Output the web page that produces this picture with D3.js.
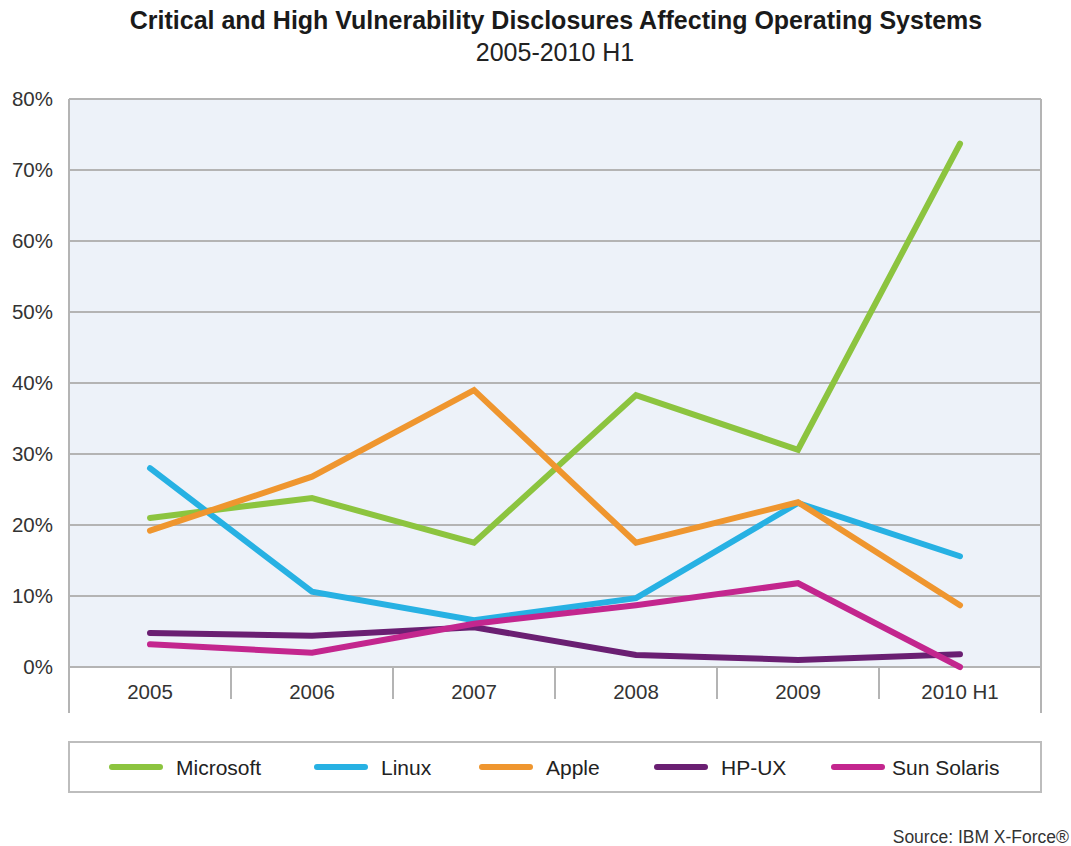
<!DOCTYPE html>
<html>
<head>
<meta charset="utf-8">
<script src="https://cdn.jsdelivr.net/npm/d3@7"></script>
<style>
  body { margin: 0; background: #fff; }
  text { font-family: "Liberation Sans", Arial, sans-serif; }
</style>
</head>
<body>
<svg id="chart"></svg>
<script>
const width = 1071;
const height = 846;

// data
const years = ["2005", "2006", "2007", "2008", "2009", "2010 H1"];
const seriesNames = ["Microsoft", "Linux", "Apple", "HP-UX", "Sun Solaris"];
const microsoft = [21.0, 23.8, 17.5, 38.3, 30.6, 73.7];
const linux = [28.0, 10.6, 6.6, 9.7, 23.1, 15.6];
const apple = [19.2, 26.8, 39.0, 17.5, 23.2, 8.7];
const hpux = [4.8, 4.4, 5.6, 1.7, 1.0, 1.8];
const solaris = [3.2, 2.0, 6.1, 8.7, 11.8, 0.0];
const yTicks = [0, 10, 20, 30, 40, 50, 60, 70, 80];

const colors = ["#8cc43f", "#27b1e3", "#ef962f", "#6a1f72", "#c3268e"];
const allSeries = [microsoft, linux, apple, hpux, solaris];

const margin = {left: 69, right: 30, top: 99, bottom: 179};
const plotW = width - margin.left - margin.right;
const plotH = height - margin.top - margin.bottom;

const svg = d3.select("#chart")
    .attr("width", width)
    .attr("height", height)
    .attr("viewBox", [0, 0, width, height]);

// titles
svg.append("text")
    .attr("x", 556).attr("y", 29)
    .attr("text-anchor", "middle")
    .attr("font-size", 25).attr("font-weight", "bold")
    .attr("fill", "#1a1a1a")
    .text("Critical and High Vulnerability Disclosures Affecting Operating Systems");

svg.append("text")
    .attr("x", 555).attr("y", 61)
    .attr("text-anchor", "middle")
    .attr("font-size", 25)
    .attr("fill", "#222")
    .text("2005-2010 H1");

const x = d3.scaleBand().domain(years).range([0, plotW]);
const y = d3.scaleLinear().domain([0, 80]).range([plotH, 0]);

const g = svg.append("g").attr("transform", `translate(${margin.left},${margin.top})`);

g.append("rect")
    .attr("width", plotW).attr("height", plotH)
    .attr("fill", "#edf2f9");

// gridlines
g.selectAll("line.grid")
    .data(yTicks)
    .enter().append("line")
    .attr("class", "grid")
    .attr("x1", 0).attr("x2", plotW)
    .attr("y1", d => y(d)).attr("y2", d => y(d))
    .attr("stroke", "#b4b4b4")
    .attr("stroke-width", 2);

// left and right borders run down past the category labels
g.append("line")
    .attr("x1", 0).attr("x2", 0)
    .attr("y1", 0).attr("y2", plotH + 46)
    .attr("stroke", "#b4b4b4").attr("stroke-width", 2);
g.append("line")
    .attr("x1", plotW).attr("x2", plotW)
    .attr("y1", 0).attr("y2", plotH + 46)
    .attr("stroke", "#b4b4b4").attr("stroke-width", 2);

// category separators
g.selectAll("line.sep")
    .data(years.slice(1))
    .enter().append("line")
    .attr("class", "sep")
    .attr("x1", d => x(d)).attr("x2", d => x(d))
    .attr("y1", plotH).attr("y2", plotH + 32)
    .attr("stroke", "#b4b4b4").attr("stroke-width", 2);

// y labels
g.selectAll("text.ylab")
    .data(yTicks)
    .enter().append("text")
    .attr("class", "ylab")
    .attr("x", -16)
    .attr("y", d => y(d))
    .attr("dy", "0.36em")
    .attr("text-anchor", "end")
    .attr("font-size", 20.5)
    .attr("fill", "#333")
    .text(d => d + "%");

// x labels
g.selectAll("text.xlab")
    .data(years)
    .enter().append("text")
    .attr("class", "xlab")
    .attr("x", d => x(d) + x.bandwidth() / 2)
    .attr("y", plotH + 32)
    .attr("text-anchor", "middle")
    .attr("font-size", 20.5)
    .attr("fill", "#333")
    .text(d => d);

const line = d3.line()
    .x((d, i) => x(years[i]) + x.bandwidth() / 2)
    .y(d => y(d));

g.selectAll("path.series")
    .data(allSeries)
    .enter().append("path")
    .attr("class", "series")
    .attr("d", d => line(d))
    .attr("fill", "none")
    .attr("stroke", (d, i) => colors[i])
    .attr("stroke-width", 6)
    .attr("stroke-linejoin", "miter")
    .attr("stroke-linecap", "round");

// legend
svg.append("rect")
    .attr("x", 69).attr("y", 742)
    .attr("width", plotW).attr("height", 50)
    .attr("fill", "#fff")
    .attr("stroke", "#bdbdbd").attr("stroke-width", 2);

const legendX = [110, 315, 480, 655, 832];
const leg = svg.selectAll("g.leg")
    .data(seriesNames)
    .enter().append("g")
    .attr("class", "leg")
    .attr("transform", (d, i) => `translate(${legendX[i]},767)`);

leg.append("line")
    .attr("x1", 2).attr("x2", 50)
    .attr("stroke", (d, i) => colors[i])
    .attr("stroke-width", 6)
    .attr("stroke-linecap", "round");

leg.append("text")
    .attr("x", (d, i) => i === 4 ? 60 : 66)
    .attr("dy", "0.36em")
    .attr("font-size", 21)
    .attr("fill", "#222")
    .text(d => d);

svg.append("text")
    .attr("x", 1069).attr("y", 843)
    .attr("text-anchor", "end")
    .attr("font-size", 17.5)
    .attr("fill", "#333")
    .text("Source: IBM X-Force®");
</script>
</body>
</html>
